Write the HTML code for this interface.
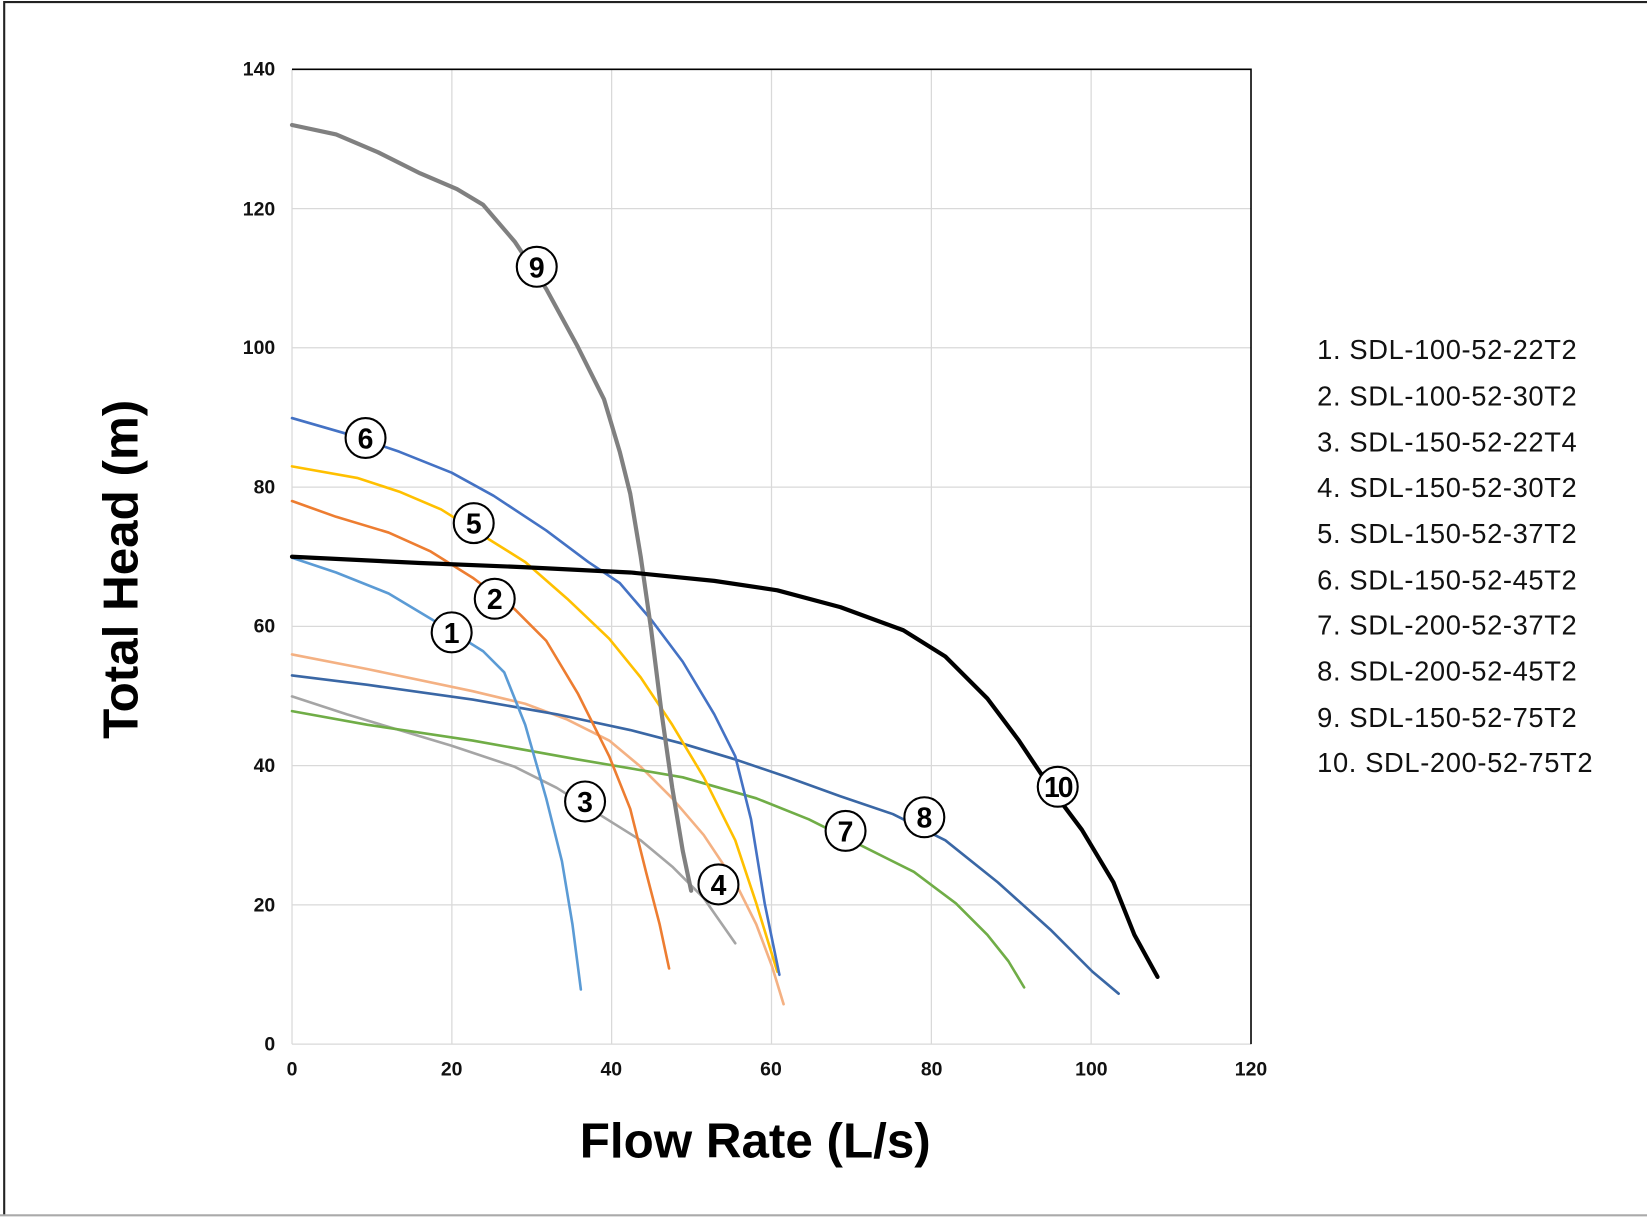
<!DOCTYPE html>
<html><head><meta charset="utf-8"><style>html,body{margin:0;padding:0;background:#fff}svg{display:block}</style></head>
<body>
<svg width="1647" height="1217" viewBox="0 0 1568 1158.6" preserveAspectRatio="none" xmlns="http://www.w3.org/2000/svg" font-family="Liberation Sans, Arial, sans-serif">
<rect x="0" y="0" width="1568" height="1158.6" fill="#fff"/>
<path d="M4,1157 L4,2 L1568,2" fill="none" stroke="#222" stroke-width="2"/>
<line x1="0" y1="1157" x2="1568" y2="1157" stroke="#aaa" stroke-width="2"/>
<g stroke="#d9d9d9" stroke-width="1.2">
<line x1="430.2" y1="66" x2="430.2" y2="994"/><line x1="582.3" y1="66" x2="582.3" y2="994"/><line x1="734.5" y1="66" x2="734.5" y2="994"/><line x1="886.7" y1="66" x2="886.7" y2="994"/><line x1="1038.8" y1="66" x2="1038.8" y2="994"/>
<line x1="278" y1="198.6" x2="1191" y2="198.6"/><line x1="278" y1="331.1" x2="1191" y2="331.1"/><line x1="278" y1="463.7" x2="1191" y2="463.7"/><line x1="278" y1="596.3" x2="1191" y2="596.3"/><line x1="278" y1="728.9" x2="1191" y2="728.9"/><line x1="278" y1="861.4" x2="1191" y2="861.4"/>
<line x1="278" y1="66" x2="278" y2="994"/><line x1="278" y1="994" x2="1191" y2="994"/>
</g>
<path d="M278,66 L1191,66 L1191,994" fill="none" stroke="#000" stroke-width="1.5"/>
<g font-size="18.5" font-weight="bold" fill="#111" text-anchor="end">
<text x="262" y="72">140</text><text x="262" y="205">120</text><text x="262" y="337">100</text><text x="262" y="470">80</text><text x="262" y="602">60</text><text x="262" y="735">40</text><text x="262" y="868">20</text><text x="262" y="1000">0</text>
</g>
<g font-size="18.5" font-weight="bold" fill="#111" text-anchor="middle">
<text x="278" y="1024">0</text><text x="430" y="1024">20</text><text x="582" y="1024">40</text><text x="734" y="1024">60</text><text x="887" y="1024">80</text><text x="1039" y="1024">100</text><text x="1191" y="1024">120</text>
</g>
<text x="0" y="0" font-size="47" font-weight="bold" text-anchor="middle" transform="translate(131,542) rotate(-90)">Total Head (m)</text>
<text x="719" y="1102" font-size="47" font-weight="bold" text-anchor="middle">Flow Rate (L/s)</text>
<g fill="none" stroke-linejoin="round" stroke-linecap="round">
<polyline stroke="#a5a5a5" stroke-width="2.5" points="278,663 330,680 380,695 430,710 490,730 530,750 570,775 610,800 640,825 670,855 700,898"/>
<polyline stroke="#f4b183" stroke-width="2.5" points="278,623 350,637 450,658 500,670 540,685 580,705 610,730 640,760 670,795 700,840 720,880 735,920 746,956"/>
<polyline stroke="#70ad47" stroke-width="2.5" points="278,677 350,690 450,705 550,723 650,740 720,760 770,780 820,805 870,830 910,860 940,890 960,915 975,940"/>
<polyline stroke="#3a67a5" stroke-width="2.5" points="278,643 350,652 450,666 530,680 600,695 650,708 700,723 750,740 800,758 850,775 900,800 950,840 1000,885 1040,925 1065,946"/>
<polyline stroke="#5b9bd5" stroke-width="2.5" points="278,531 320,545 370,565 420,595 460,620 480,640 500,690 520,760 535,820 545,880 553,942"/>
<polyline stroke="#ed7d31" stroke-width="2.5" points="278,477 320,492 370,507 410,525 450,550 490,580 520,610 550,660 580,720 600,770 615,830 628,880 637,922"/>
<polyline stroke="#ffc000" stroke-width="2.5" points="278,444 340,455 380,468 420,485 460,510 500,535 540,570 580,608 610,645 640,690 670,740 700,800 720,860 740,925"/>
<polyline stroke="#4472c4" stroke-width="2.5" points="278,398 330,413 380,430 430,450 470,472 520,505 560,535 590,555 620,590 650,630 680,680 700,720 715,780 728,860 742,928"/>
<polyline stroke="#808080" stroke-width="4" points="278,119 320,128 360,145 400,165 435,180 460,195 490,230 520,275 550,330 575,380 590,430 600,470 610,530 620,600 630,680 640,750 650,810 658,848"/>
<polyline stroke="#000" stroke-width="4" points="278,530 400,536 500,540 600,545 680,553 740,562 800,578 860,600 900,625 940,665 970,705 1000,750 1030,790 1060,840 1080,890 1102,930"/>
</g>
<g fill="#fff" stroke="#000" stroke-width="2">
<circle cx="511" cy="254" r="19"/><circle cx="348" cy="417" r="19"/><circle cx="451" cy="498" r="19"/><circle cx="471" cy="570" r="19"/><circle cx="430" cy="602" r="19"/><circle cx="557" cy="763" r="19"/><circle cx="684" cy="842" r="19"/><circle cx="805" cy="791" r="19"/><circle cx="880" cy="778" r="19"/><circle cx="1007" cy="749" r="19"/>
</g>
<g font-size="27" font-weight="bold" text-anchor="middle" fill="#000">
<text x="511" y="264">9</text><text x="348" y="427">6</text><text x="451" y="508">5</text><text x="471" y="580">2</text><text x="430" y="612">1</text><text x="557" y="773">3</text><text x="684" y="852">4</text><text x="805" y="801">7</text><text x="880" y="788">8</text><text x="1007" y="759" letter-spacing="-2">10</text>
</g>
<g font-size="26" fill="#111" letter-spacing="0.6">
<text x="1254" y="342">1. SDL-100-52-22T2</text>
<text x="1254" y="386">2. SDL-100-52-30T2</text>
<text x="1254" y="430">3. SDL-150-52-22T4</text>
<text x="1254" y="473">4. SDL-150-52-30T2</text>
<text x="1254" y="517">5. SDL-150-52-37T2</text>
<text x="1254" y="561">6. SDL-150-52-45T2</text>
<text x="1254" y="604">7. SDL-200-52-37T2</text>
<text x="1254" y="648">8. SDL-200-52-45T2</text>
<text x="1254" y="692">9. SDL-150-52-75T2</text>
<text x="1254" y="735">10. SDL-200-52-75T2</text>
</g>
</svg>
</body></html>
